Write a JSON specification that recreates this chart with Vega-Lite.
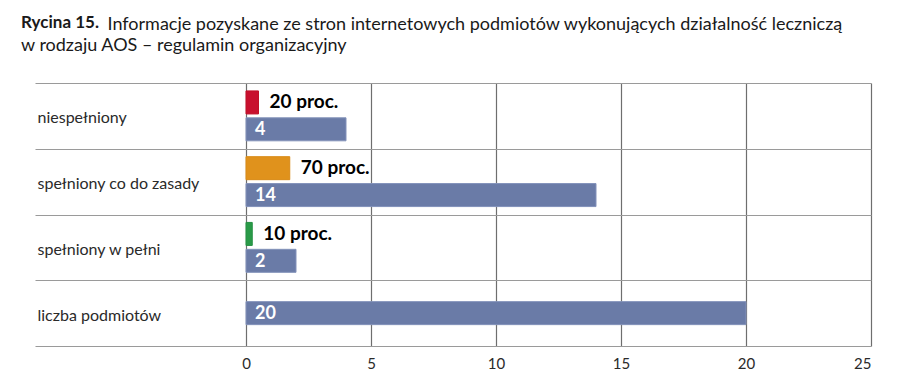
{
  "$schema": "https://vega.github.io/schema/vega-lite/v6.json",
  "width": 836,
  "height": 263,
  "autosize": "none",
  "padding": {"left": 35, "top": 83, "right": 29, "bottom": 41},
  "background": "white",
  "config": {"view": {"stroke": null}, "font": "Lato"},
  "title": {
    "text": "Rycina 15.",
    "subtitle": "w rodzaju AOS – regulamin organizacyjny",
    "anchor": "start",
    "frame": "group",
    "dx": -14,
    "dy": 62,
    "font": "Lato",
    "fontSize": 17,
    "fontWeight": "bold",
    "color": "#1a1a1a",
    "subtitleFont": "Lato",
    "subtitleFontSize": 18,
    "subtitleColor": "#1a1a1a",
    "subtitleLineHeight": 21,
    "subtitlePadding": 5,
    "offset": 21
  },
  "data": {
    "values": [
      {"kategoria": "niespełniony", "typ": "odsetek", "wartosc": 20, "etykieta": "20 proc."},
      {"kategoria": "niespełniony", "typ": "liczba", "wartosc": 4, "etykieta": "4"},
      {"kategoria": "spełniony co do zasady", "typ": "odsetek", "wartosc": 70, "etykieta": "70 proc."},
      {"kategoria": "spełniony co do zasady", "typ": "liczba", "wartosc": 14, "etykieta": "14"},
      {"kategoria": "spełniony w pełni", "typ": "odsetek", "wartosc": 10, "etykieta": "10 proc."},
      {"kategoria": "spełniony w pełni", "typ": "liczba", "wartosc": 2, "etykieta": "2"},
      {"kategoria": "liczba podmiotów", "typ": "ogółem", "wartosc": 20, "etykieta": "20"}
    ]
  },
  "encoding": {
    "y": {
      "field": "kategoria",
      "type": "nominal",
      "sort": ["niespełniony", "spełniony co do zasady", "spełniony w pełni", "liczba podmiotów"],
      "scale": {"paddingInner": 0, "paddingOuter": 0},
      "axis": {
        "title": null,
        "orient": "left",
        "labelAlign": "left",
        "labelPadding": -2,
        "labelOffset": 2,
        "ticks": false,
        "domain": false,
        "grid": true,
        "tickBand": "extent",
        "gridColor": "#9a9a9a",
        "gridWidth": 1.2,
        "labelFont": "Lato",
        "labelFontSize": 16,
        "labelColor": "#2a2a2a",
        "labelBaseline": "middle",
        "labelLimit": 300
      }
    },
    "yOffset": {
      "field": "typ",
      "type": "nominal",
      "scale": {"domain": ["odsetek", "ogółem", "liczba"], "paddingInner": 0, "paddingOuter": 0.944}
    }
  },
  "layer": [
    {
      "transform": [{"filter": "datum.typ !== 'odsetek'"}],
      "encoding": {
        "x": {
          "field": "wartosc",
          "type": "quantitative",
          "scale": {"domain": [-8.44, 25], "nice": false, "zero": false},
          "axis": {
            "title": null,
            "values": [0, 5, 10, 15, 20, 25],
            "grid": true,
            "gridColor": "#6e6e6e",
            "gridWidth": 1.2,
            "domain": false,
            "ticks": false,
            "labelPadding": 10,
            "labelFont": "Lato",
            "labelFontSize": 15,
            "labelColor": "#2a2a2a"
          }
        }
      },
      "layer": [
        {
          "mark": {"type": "bar", "height": 23, "fill": "#6a7ba7", "stroke": "#8392ba", "strokeWidth": 1}
        },
        {
          "mark": {"type": "text", "align": "left", "baseline": "middle", "dx": 9, "dy": 1, "fontWeight": "bold", "fontSize": 18, "fill": "white", "font": "Lato"},
          "encoding": {"x": {"datum": 0}, "text": {"field": "etykieta"}}
        }
      ]
    },
    {
      "transform": [{"filter": "datum.typ === 'odsetek'"}],
      "encoding": {
        "x": {
          "field": "wartosc",
          "type": "quantitative",
          "scale": {"domain": [-337.6, 1000], "nice": false, "zero": false},
          "axis": {
            "orient": "top",
            "title": "Informacje pozyskane ze stron internetowych podmiotów wykonujących działalność leczniczą",
            "labels": false,
            "ticks": false,
            "domain": false,
            "grid": false,
            "titleX": 72,
            "titleY": -54,
            "titleAlign": "left",
            "titleAnchor": "start",
            "titleBaseline": "alphabetic",
            "titleFont": "Lato",
            "titleFontSize": 18,
            "titleFontWeight": "normal",
            "titleColor": "#1a1a1a",
            "titleLimit": 900
          }
        }
      },
      "layer": [
        {
          "mark": {"type": "bar", "height": 23, "strokeWidth": 1},
          "encoding": {
            "fill": {
              "field": "kategoria",
              "type": "nominal",
              "scale": {"domain": ["niespełniony", "spełniony co do zasady", "spełniony w pełni"], "range": ["#c8102e", "#e0921c", "#2a9a48"]},
              "legend": null
            },
            "stroke": {
              "field": "kategoria",
              "type": "nominal",
              "scale": {"domain": ["niespełniony", "spełniony co do zasady", "spełniony w pełni"], "range": ["#c01028", "#d98a16", "#259043"]},
              "legend": null
            }
          }
        },
        {
          "mark": {"type": "text", "align": "left", "baseline": "middle", "dx": 11, "dy": 0, "fontWeight": "bold", "fontSize": 19, "fill": "black", "font": "Lato"},
          "encoding": {"text": {"field": "etykieta"}}
        }
      ]
    }
  ],
  "resolve": {"scale": {"x": "independent"}}
}
